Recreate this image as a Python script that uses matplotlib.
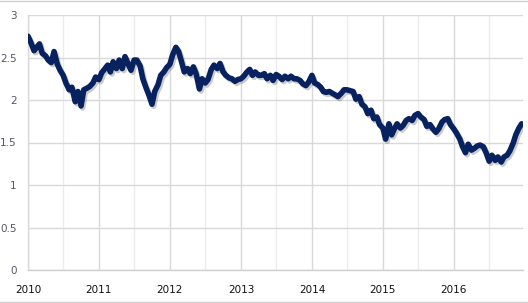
import matplotlib
matplotlib.use("Agg")
import matplotlib.pyplot as plt
import matplotlib.patheffects as pe
from matplotlib.lines import Line2D
import pandas as pd

# Semi-monthly values
v2010 = [2.75, 2.68, 2.58, 2.62, 2.66, 2.55, 2.52, 2.47, 2.44, 2.57, 2.42, 2.35,
         2.29, 2.20, 2.12, 2.15, 1.98, 2.10, 1.93, 2.12, 2.14, 2.16, 2.20, 2.27]
v2011 = [2.24, 2.32, 2.37, 2.41, 2.33, 2.45, 2.37, 2.47, 2.37, 2.51, 2.42, 2.35,
         2.47, 2.47, 2.40, 2.25, 2.14, 2.06, 1.95, 2.10, 2.18, 2.29, 2.33, 2.38]
v2012 = [2.42, 2.53, 2.62, 2.57, 2.45, 2.33, 2.37, 2.31, 2.39, 2.31, 2.13, 2.25,
         2.20, 2.24, 2.36, 2.41, 2.37, 2.43, 2.33, 2.29, 2.26, 2.25, 2.22, 2.24]
v2013 = [2.25, 2.28, 2.33, 2.36, 2.29, 2.33, 2.29, 2.29, 2.31, 2.25, 2.29, 2.23,
         2.30, 2.28, 2.24, 2.28, 2.25, 2.28, 2.25, 2.25, 2.23, 2.19, 2.17, 2.21]
v2014 = [2.29, 2.20, 2.18, 2.15, 2.10, 2.09, 2.10, 2.08, 2.06, 2.04, 2.08, 2.12,
         2.12, 2.11, 2.10, 2.01, 2.04, 1.95, 1.92, 1.84, 1.88, 1.78, 1.80, 1.71]
v2015 = [1.67, 1.54, 1.72, 1.59, 1.66, 1.72, 1.67, 1.70, 1.76, 1.78, 1.76, 1.82,
         1.84, 1.80, 1.77, 1.69, 1.71, 1.66, 1.62, 1.66, 1.74, 1.77, 1.78, 1.71]
v2016 = [1.66, 1.61, 1.54, 1.45, 1.38, 1.48, 1.41, 1.43, 1.46, 1.47, 1.45, 1.38,
         1.28, 1.35, 1.29, 1.33, 1.27, 1.33, 1.35, 1.40, 1.49, 1.59, 1.67, 1.72]
values = v2010 + v2011 + v2012 + v2013 + v2014 + v2015 + v2016
dates = pd.date_range("2010-01-01", periods=len(values), freq="SMS")

year_ticks = ["2010", "2011", "2012", "2013", "2014", "2015", "2016"]
y_ticks = [0, 0.5, 1, 1.5, 2, 2.5, 3]
y_labels = ["0", "0.5", "1", "1.5", "2", "2.5", "3"]

W, H = 528, 303
fig = plt.figure(figsize=(W / 100, H / 100), dpi=100)
ax = fig.add_axes([28 / W, (H - 270) / H, (523 - 28) / W, (270 - 15) / H])

ax.plot(dates, values, color="#08215f", lw=4.0, solid_joinstyle="round",
        solid_capstyle="round", zorder=3,
        path_effects=[pe.SimpleLineShadow(offset=(1.2, -1.5), shadow_color="#555555", alpha=0.3),
                      pe.Normal()])

ax.set_ylim(0, 3)
ax.set_xlim(pd.Timestamp("2010-01-01"), pd.Timestamp("2016-12-22"))
ax.set_yticks(y_ticks)
ax.set_yticklabels(y_labels)
ax.set_xticks([pd.Timestamp(f"{y}-01-01") for y in year_ticks])
ax.set_xticklabels(year_ticks)
ax.set_xticks([pd.Timestamp(f"{y}-07-01") for y in year_ticks], minor=True)

ax.grid(True, which="major", color="#d9d9d9", lw=1.0, zorder=0)
ax.grid(True, which="minor", axis="x", color="#ececec", lw=1.0, zorder=0)
ax.set_axisbelow(True)

for s in ["top", "right"]:
    ax.spines[s].set_visible(False)
ax.spines["left"].set_color("#d9d9d9")
ax.spines["bottom"].set_color("#d0d0d0")
ax.spines["left"].set_linewidth(1.0)
ax.spines["bottom"].set_linewidth(1.0)

ax.tick_params(axis="y", length=0, pad=8, labelsize=7.5, labelcolor="#555566")
ax.tick_params(axis="x", which="both", length=0, pad=11, labelsize=7.5, labelcolor="#111111")

fig.add_artist(Line2D([0, 1], [1 - 0.5 / H, 1 - 0.5 / H], color="#d0d0d0", lw=1.0))
fig.add_artist(Line2D([0, 1], [1.5 / H, 1.5 / H], color="#d0d0d0", lw=1.0))

fig.savefig("out.png", dpi=100)
